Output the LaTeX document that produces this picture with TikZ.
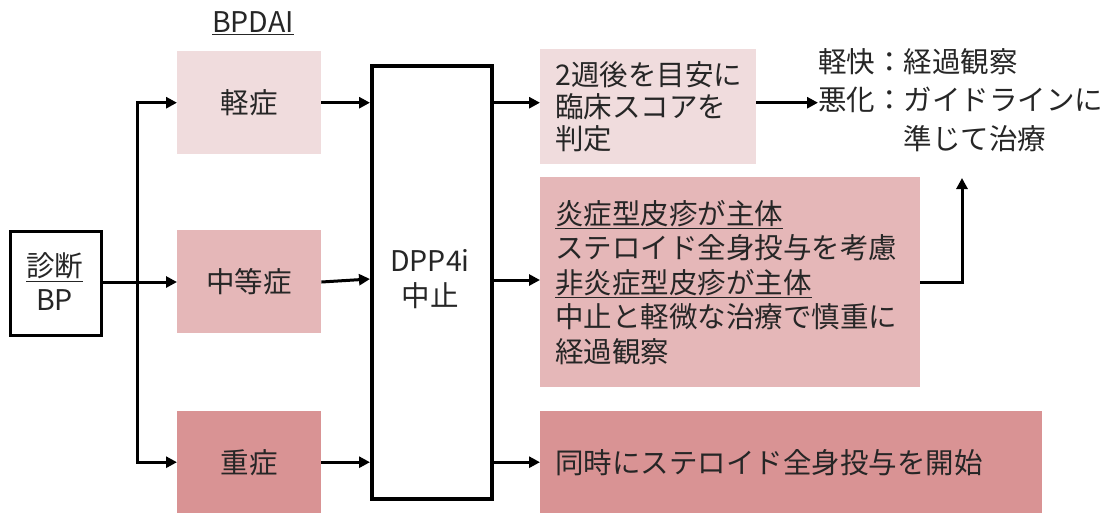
\documentclass[tikz,border=0pt]{standalone}
\usepackage{fontspec}
\setmainfont{Noto Sans CJK JP}
\usetikzlibrary{arrows.meta,calc}
\definecolor{pinkA}{HTML}{F0DCDD}
\definecolor{pinkB}{HTML}{E5B7B8}
\definecolor{pinkC}{HTML}{D99394}
\tikzset{
  every node/.style={font=\fontsize{28.5}{32}\selectfont, text=black!85},
  box/.style={rectangle, draw=none, inner sep=0pt, anchor=north west},
  outbox/.style={rectangle, draw=black, inner sep=0pt, anchor=north west},
  arr/.style={line width=3pt, -{Triangle[length=11pt,width=11pt]}},
  ln/.style={line width=3pt},
  lbl/.style={inner sep=0pt}
}
\begin{document}
\begin{tikzpicture}[x=1pt,y=-1pt]
\useasboundingbox (0,0) rectangle (1109,515);
% title
\node[lbl] (title) at (253,23) {\underline{BPDAI}};
% left boxes
\node[outbox, line width=2.5pt, minimum width=91pt, minimum height=104pt, align=center] (bp) at (9,230) {};
\node[lbl, align=center, font=\fontsize{28.5}{34}\selectfont] (bptxt) at (54.5,282) {\underline{診断}\\BP};
\node[box, fill=pinkA, minimum width=144pt, minimum height=103pt] (mild) at (177,51) {軽症};
\node[box, fill=pinkB, minimum width=144pt, minimum height=103pt] (mod) at (177,230) {中等症};
\node[box, fill=pinkC, minimum width=144pt, minimum height=102pt] (sev) at (177,411) {重症};
% DPP4i box
\node[outbox, line width=3.5pt, minimum width=120pt, minimum height=433pt] (dpp) at (370,64) {};
\node[lbl, align=center, font=\fontsize{28.5}{35}\selectfont] (dpptxt) at (430,279) {DPP4i\\中止};
% right boxes
\node[box, fill=pinkA, minimum width=216pt, minimum height=115pt, text width=186pt, inner xsep=15pt, align=left] (r1) at (540,49) {2週後を目安に\\臨床スコアを\\判定};
\node[box, fill=pinkB, minimum width=380pt, minimum height=210pt, text width=350pt, inner xsep=15pt, align=left, font=\fontsize{28.5}{34.5}\selectfont] (r2) at (540,177) {\underline{炎症型皮疹が主体}\\ステロイド全身投与を考慮\\\underline{非炎症型皮疹が主体}\\中止と軽微な治療で慎重に\\経過観察};
\node[box, fill=pinkC, minimum width=502pt, minimum height=102pt, text width=472pt, inner xsep=15pt, align=left] (r3) at (540,411) {同時にステロイド全身投与を開始};
% outcome text
\node[lbl, anchor=north west, align=left, font=\fontsize{28.5}{38.5}\selectfont] (out) at (818,48) {軽快：経過観察\\悪化：ガイドラインに\\\phantom{悪化：}準じて治療};
% connectors
\coordinate (jt) at (137,282);
\coordinate (up) at (962,178);
\draw[ln] (bp.east |- jt) -- (jt);
\draw[arr] (jt) -- (mod.west |- jt);
\draw[arr] (jt) |- (mild.west);
\draw[arr] (jt) |- (sev.west);
\draw[arr] (mild.east) -- (dpp.west |- mild.east);
\draw[arr] (mod.east |- jt) -- ($(dpp.west |- jt)+(0,-3)$);
\draw[arr] (sev.east) -- (dpp.west |- sev.east);
\draw[arr] (dpp.east |- mild.east) -- (r1.west |- mild.east);
\draw[arr] ($(dpp.east |- jt)+(0,-2)$) -- ($(r2.west |- jt)+(0,-2)$);
\draw[arr] (dpp.east |- sev.east) -- (r3.west |- sev.east);
\draw[arr] (r1.east |- mild.east) -- (out.west |- mild.east);
\draw[arr] (r2.east |- jt) -| (up);
\end{tikzpicture}
\end{document}
